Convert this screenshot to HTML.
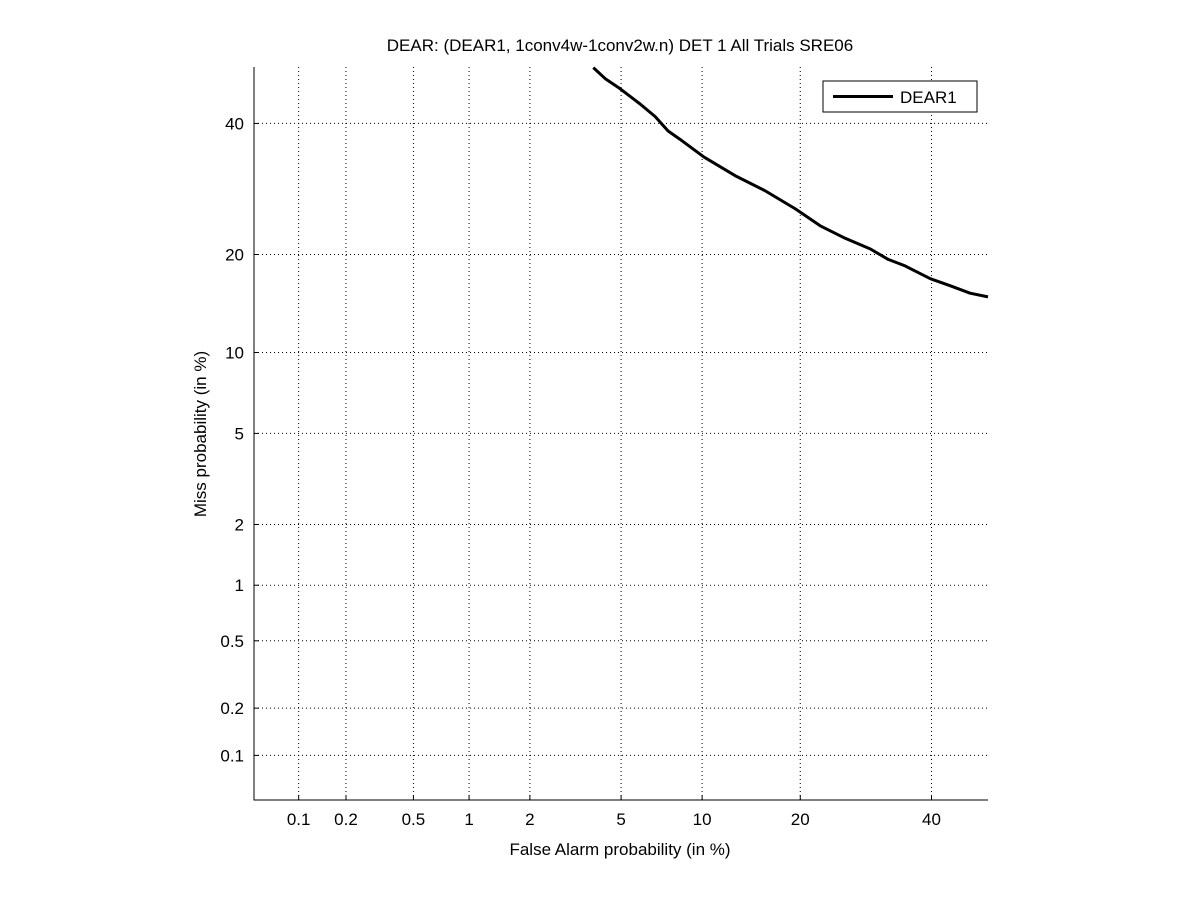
<!DOCTYPE html>
<html><head><meta charset="utf-8"><style>
body{margin:0;background:#fff;}
svg text{font-family:"Liberation Sans",sans-serif;fill:#000;}
</style></head><body>
<svg id="c" width="1201" height="900"></svg>
<script>
const xTicks=[0.1,0.2,0.5,1,2,5,10,20,40];
const yTicks=[0.1,0.2,0.5,1,2,5,10,20,40];
const faPct=[3.84,4.31,4.96,5.94,6.78,7.58,8.52,10.15,12.84,15.9,19.4,22.6,26.1,29.9,32.7,35.5,39.8,43.3,46.8,50];
const missPct=[49.9,47.9,46.1,43.4,41.2,38.7,37.0,34.3,31.3,28.9,26.2,23.8,22.1,20.7,19.4,18.6,17.1,16.3,15.5,15.1];
const seriesName="DEAR1";

function probit(p){
 const a=[-39.69683028665376,220.9460984245205,-275.9285104469687,138.3577518672690,-30.66479806614716,2.506628277459239];
 const b=[-54.47609879822406,161.5858368580409,-155.6989798598866,66.80131188771972,-13.28068155288572];
 const c=[-0.007784894002430293,-0.3223964580411365,-2.400758277161838,-2.549732539343734,4.374664141464968,2.938163982698783];
 const d=[0.007784695709041462,0.3224671290700398,2.445134137142996,3.754408661907416];
 const pl=0.02425;let q,r;
 if(p<pl){q=Math.sqrt(-2*Math.log(p));return (((((c[0]*q+c[1])*q+c[2])*q+c[3])*q+c[4])*q+c[5])/((((d[0]*q+d[1])*q+d[2])*q+d[3])*q+1);}
 if(p<=1-pl){q=p-0.5;r=q*q;return (((((a[0]*r+a[1])*r+a[2])*r+a[3])*r+a[4])*r+a[5])*q/(((((b[0]*r+b[1])*r+b[2])*r+b[3])*r+b[4])*r+1);}
 q=Math.sqrt(-2*Math.log(1-p));return -(((((c[0]*q+c[1])*q+c[2])*q+c[3])*q+c[4])*q+c[5])/((((d[0]*q+d[1])*q+d[2])*q+d[3])*q+1);
}
const L=254,R=988,T=67,B=800;
const zmin=probit(0.0005),zmax=0;
const X=v=>L+(probit(v/100)-zmin)/(zmax-zmin)*(R-L);
const Y=v=>B-(probit(v/100)-zmin)/(zmax-zmin)*(B-T);
const svg=document.getElementById('c');const NS='http://www.w3.org/2000/svg';
function mk(t,at,txt){const e=document.createElementNS(NS,t);for(const k in at)e.setAttribute(k,at[k]);if(txt!=null)e.textContent=txt;svg.appendChild(e);return e;}
let e;
xTicks.forEach(v=>{const x=X(v);
 e=mk('line',{x1:x,x2:x,y1:T,y2:B,stroke:'#000','stroke-width':1,'stroke-dasharray':'1,3'});
 
 e=mk('line',{x1:x,x2:x,y1:B,y2:B-5,stroke:'#000'});
 e=mk('text',{x:x,y:825,'text-anchor':'middle','font-size':17},String(v));
 
});
yTicks.forEach(v=>{const y=Y(v);
 e=mk('line',{x1:L,x2:R,y1:y,y2:y,stroke:'#000','stroke-width':1,'stroke-dasharray':'1,3'});
 
 e=mk('line',{x1:L,x2:L+5,y1:y,y2:y,stroke:'#000'});
 e=mk('text',{x:244,y:y+6,'text-anchor':'end','font-size':17},String(v));
 
});
e=mk('path',{d:`M${L},${T}L${L},${B}L${R},${B}`,fill:'none',stroke:'#000'});

e=mk('path',{d:faPct.map((f,i)=>(i?'L':'M')+X(f).toFixed(1)+','+Y(missPct[i]).toFixed(1)).join(''),fill:'none',stroke:'#000','stroke-width':3,'stroke-linejoin':'round'});

e=mk('rect',{x:823,y:81,width:154,height:31,fill:'#fff',stroke:'#000'});

e=mk('line',{x1:833,x2:893,y1:96.5,y2:96.5,stroke:'#000','stroke-width':3});

e=mk('text',{x:900,y:103,'font-size':17},seriesName);

e=mk('text',{x:620,y:51,'text-anchor':'middle','font-size':17},'DEAR: (DEAR1, 1conv4w-1conv2w.n) DET 1 All Trials SRE06');

e=mk('text',{x:620,y:855,'text-anchor':'middle','font-size':17},'False Alarm probability (in %)');

e=mk('text',{x:206,y:434,'text-anchor':'middle','font-size':17,transform:'rotate(-90 206 434)'},'Miss probability (in %)');

</script>
</body></html>
